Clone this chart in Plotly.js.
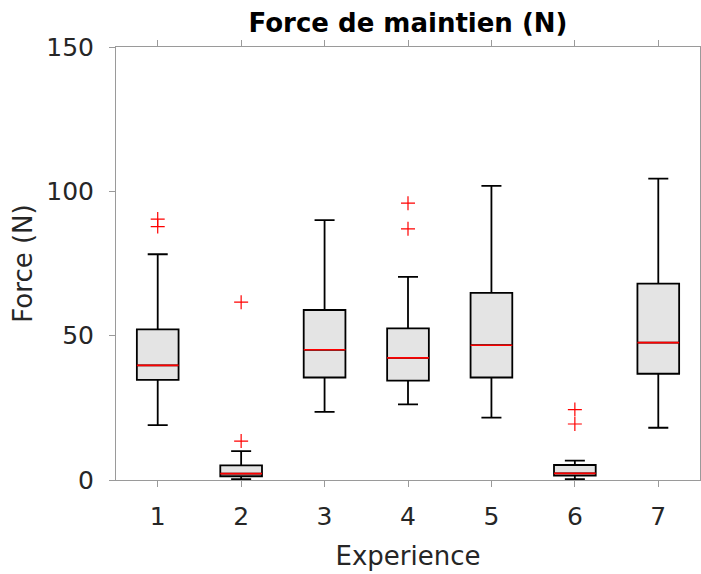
<!DOCTYPE html>
<html>
<head>
<meta charset="utf-8">
<script src="https://cdn.plot.ly/plotly-3.0.1.min.js"></script>
<style>
html,body{margin:0;padding:0;background:#fff;overflow:hidden;}
#chart{width:701px;height:574px;}
</style>
</head>
<body>
<div id="chart"></div>
<script>
// Data
var experiences = [1, 2, 3, 4, 5, 6, 7];
var tickLabels = ["1", "2", "3", "4", "5", "6", "7"];
var lowerWhisker = [19.0, 0.3, 23.6, 26.2, 21.6, 0.3, 18.1];
var q1 = [34.7, 1.3, 35.5, 34.4, 35.5, 1.5, 36.8];
var medians = [39.7, 2.2, 45.1, 42.3, 46.7, 2.3, 47.6];
var q3 = [52.2, 5.1, 58.9, 52.5, 64.8, 5.2, 68.0];
var upperWhisker = [78.2, 10.0, 90.0, 70.4, 101.9, 6.7, 104.4];
var outlierExp = [1, 1, 2, 2, 4, 4, 6, 6];
var outlierVal = [90.4, 87.8, 61.6, 13.5, 95.9, 87.0, 24.4, 19.4];

var boxWidth = 0.5;

// red median segments built from data
var medX = [], medY = [];
experiences.forEach(function (e, i) {
  medX.push(e - boxWidth / 2, e + boxWidth / 2, null);
  medY.push(medians[i], medians[i], null);
});

var traces = [
  {
    type: 'box',
    x: experiences,
    q1: q1,
    median: medians,
    q3: q3,
    lowerfence: lowerWhisker,
    upperfence: upperWhisker,
    width: boxWidth,
    whiskerwidth: 0.48,
    fillcolor: '#e4e4e4',
    line: {color: '#000000', width: 1.8},
    boxpoints: false,
    hoverinfo: 'skip',
    showlegend: false
  },
  {
    type: 'scatter',
    mode: 'lines',
    x: medX,
    y: medY,
    line: {color: '#ff0000', width: 1.6},
    hoverinfo: 'skip',
    showlegend: false
  },
  {
    type: 'scatter',
    mode: 'markers',
    x: outlierExp,
    y: outlierVal,
    marker: {symbol: 'cross-thin-open', size: 10, color: '#ff0000', line: {color: '#ff0000', width: 1.2}},
    hoverinfo: 'skip',
    showlegend: false
  }
];

var axisColor = '#9a9a9a';
var layout = {
  width: 701,
  height: 574,
  margin: {l: 116, r: 1, t: 47, b: 94, pad: 0},
  paper_bgcolor: '#ffffff',
  plot_bgcolor: '#ffffff',
  font: {family: 'DejaVu Sans, sans-serif', color: '#262626'},
  title: {
    text: 'Force de maintien (N)',
    font: {family: 'DejaVu Sans, sans-serif', size: 26, color: '#000000', weight: 'bold'},
    x: 0.5, xref: 'paper', xanchor: 'center',
    y: 1, yref: 'container', yanchor: 'top', pad: {t: 14}
  },
  xaxis: {
    range: [0.5, 7.5],
    tickmode: 'array',
    tickvals: experiences,
    ticktext: tickLabels,
    ticks: 'outside', ticklen: 6, tickwidth: 1, tickcolor: axisColor,
    showline: true, linecolor: axisColor, linewidth: 1, mirror: 'ticks',
    showgrid: false, zeroline: false,
    tickfont: {size: 25, color: '#262626'},
    ticklabelstandoff: 8,
    title: {text: 'Experience', font: {size: 26, color: '#262626'}, standoff: 16},
    automargin: false
  },
  yaxis: {
    range: [0, 150],
    tickmode: 'array',
    tickvals: [0, 50, 100, 150],
    ticktext: ['0', '50', '100', '150'],
    ticks: 'outside', ticklen: 6, tickwidth: 1, tickcolor: axisColor,
    showline: true, linecolor: axisColor, linewidth: 1, mirror: 'ticks',
    showgrid: false, zeroline: false,
    tickfont: {size: 25, color: '#262626'},
    ticklabelstandoff: 10,
    title: {text: 'Force (N)', font: {size: 26, color: '#262626'}, standoff: 6},
    automargin: false
  }
};

Plotly.newPlot('chart', traces, layout, {staticPlot: true, displayModeBar: false});
</script>
</body>
</html>
